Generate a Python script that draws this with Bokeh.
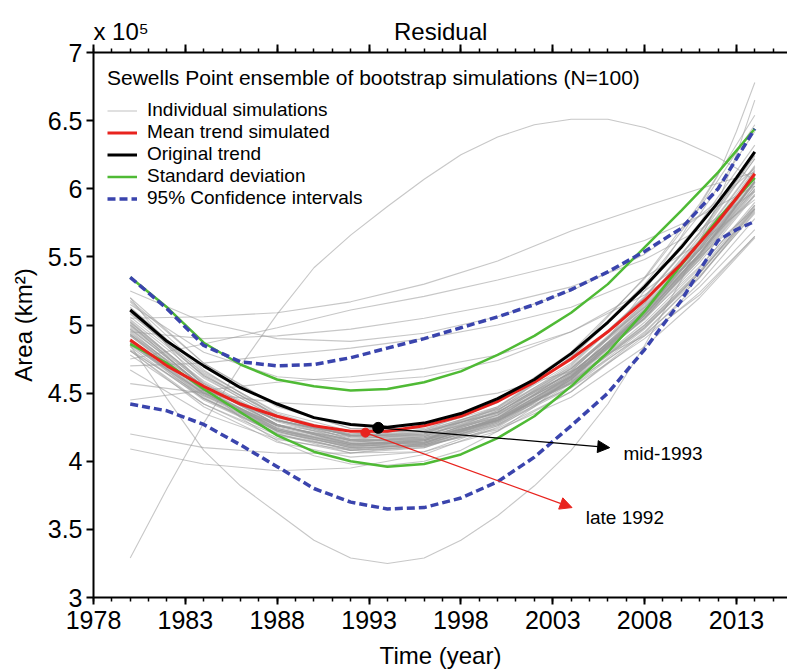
from bokeh.plotting import figure
from bokeh.models import (ColumnDataSource, Legend, LegendItem, FixedTicker,
                          LinearAxis, Label, Arrow, NormalHead, Range1d,
                          CustomJSTickFormatter)
from bokeh.embed import file_html
from bokeh.resources import INLINE

FONT = "Liberation Sans"

# ---------------- data ----------------
main_years = [1980, 1982, 1984, 1986, 1988, 1990, 1992, 1994, 1996, 1998,
              2000, 2002, 2004, 2006, 2008, 2010, 2012, 2013, 2014]
original_trend = [5.11, 4.88, 4.70, 4.54, 4.42, 4.32, 4.27, 4.25, 4.28, 4.35,
                  4.46, 4.60, 4.79, 5.02, 5.28, 5.57, 5.90, 6.08, 6.27]
mean_trend = [4.89, 4.70, 4.55, 4.42, 4.33, 4.26, 4.22, 4.22, 4.26, 4.33,
              4.44, 4.58, 4.75, 4.95, 5.18, 5.45, 5.76, 5.93, 6.11]
sd_upper = [5.35, 5.13, 4.87, 4.71, 4.60, 4.55, 4.52, 4.53, 4.58, 4.66,
            4.78, 4.92, 5.09, 5.30, 5.57, 5.84, 6.12, 6.28, 6.44]
sd_lower = [4.86, 4.72, 4.53, 4.36, 4.19, 4.07, 4.00, 3.96, 3.98, 4.05,
            4.17, 4.33, 4.55, 4.80, 5.10, 5.44, 5.78, 5.93, 6.08]
ci_upper = [5.35, 5.12, 4.85, 4.73, 4.70, 4.71, 4.76, 4.83, 4.90, 4.98,
            5.06, 5.15, 5.26, 5.39, 5.54, 5.71, 6.00, 6.22, 6.44]
ci_lower = [4.42, 4.37, 4.27, 4.12, 3.96, 3.80, 3.70, 3.65, 3.66, 3.73,
            3.85, 4.03, 4.26, 4.50, 4.82, 5.18, 5.62, 5.70, 5.76]

# strongly curved individual simulations, read on the main_years grid
sim_arch = [3.29, 3.80, 4.28, 4.70, 5.08, 5.42, 5.66, 5.87, 6.07, 6.25,
            6.38, 6.47, 6.51, 6.51, 6.45, 6.35, 6.23, 6.15, 6.06]
sim_deep = [4.85, 4.46, 4.08, 3.82, 3.62, 3.42, 3.29, 3.25, 3.29, 3.42,
            3.60, 3.82, 4.08, 4.42, 4.85, 5.33, 5.90, 6.25, 6.65]
sim_steep = [5.20, 4.85, 4.55, 4.32, 4.15, 4.04, 3.98, 3.97, 4.00, 4.08,
             4.22, 4.40, 4.62, 4.90, 5.25, 5.65, 6.10, 6.42, 6.78]

# remaining individual simulations, read on a coarser grid
sim_years = [1980, 1984, 1988, 1992, 1996, 2000, 2004, 2008, 2011, 2014]
individual_simulations = [
    [5.08, 4.65, 4.36, 4.22, 4.22, 4.36, 4.65, 5.08, 5.50, 6.00],
    [4.93, 4.55, 4.30, 4.19, 4.21, 4.36, 4.65, 5.07, 5.48, 5.96],
    [4.92, 4.52, 4.26, 4.15, 4.18, 4.36, 4.68, 5.14, 5.59, 6.11],
    [4.92, 4.50, 4.23, 4.12, 4.16, 4.35, 4.70, 5.20, 5.68, 6.24],
    [5.00, 4.54, 4.24, 4.11, 4.13, 4.32, 4.66, 5.16, 5.65, 6.22],
    [4.87, 4.50, 4.26, 4.15, 4.16, 4.31, 4.58, 4.98, 5.36, 5.82],
    [5.06, 4.63, 4.34, 4.18, 4.17, 4.30, 4.57, 4.98, 5.38, 5.86],
    [4.87, 4.46, 4.20, 4.08, 4.11, 4.29, 4.62, 5.09, 5.55, 6.08],
    [5.02, 4.58, 4.29, 4.15, 4.15, 4.31, 4.62, 5.08, 5.52, 6.05],
    [4.94, 4.55, 4.30, 4.19, 4.22, 4.39, 4.69, 5.13, 5.55, 6.05],
    [4.97, 4.55, 4.27, 4.13, 4.13, 4.27, 4.55, 4.97, 5.38, 5.87],
    [4.81, 4.42, 4.17, 4.06, 4.10, 4.27, 4.60, 5.07, 5.51, 6.04],
    [5.09, 4.63, 4.33, 4.18, 4.20, 4.37, 4.71, 5.21, 5.68, 6.25],
    [4.87, 4.48, 4.22, 4.10, 4.11, 4.26, 4.54, 4.95, 5.35, 5.83],
    [5.18, 4.72, 4.41, 4.24, 4.22, 4.35, 4.62, 5.04, 5.46, 5.95],
    [5.02, 4.56, 4.27, 4.14, 4.18, 4.39, 4.76, 5.30, 5.81, 6.42],
    [4.82, 4.46, 4.23, 4.12, 4.15, 4.30, 4.58, 4.99, 5.38, 5.84],
    [4.93, 4.52, 4.26, 4.16, 4.20, 4.40, 4.76, 5.27, 5.75, 6.32],
    [4.97, 4.55, 4.27, 4.12, 4.11, 4.24, 4.51, 4.92, 5.31, 5.78],
    [4.85, 4.50, 4.27, 4.18, 4.21, 4.38, 4.68, 5.11, 5.52, 6.00],
    [4.96, 4.51, 4.22, 4.08, 4.10, 4.28, 4.61, 5.10, 5.57, 6.13],
    [4.81, 4.48, 4.26, 4.16, 4.17, 4.30, 4.54, 4.90, 5.24, 5.65],
    [5.17, 4.67, 4.33, 4.16, 4.14, 4.29, 4.59, 5.05, 5.51, 6.05],
    [4.88, 4.53, 4.30, 4.20, 4.23, 4.38, 4.65, 5.05, 5.43, 5.88],
    [4.86, 4.46, 4.21, 4.11, 4.15, 4.34, 4.68, 5.16, 5.63, 6.17],
    [4.88, 4.47, 4.20, 4.06, 4.07, 4.22, 4.51, 4.94, 5.35, 5.85],
    [5.04, 4.61, 4.32, 4.19, 4.19, 4.34, 4.63, 5.06, 5.49, 5.99],
    [4.87, 4.49, 4.25, 4.14, 4.17, 4.34, 4.65, 5.09, 5.52, 6.02],
    [5.20, 4.72, 4.40, 4.24, 4.24, 4.40, 4.72, 5.20, 5.67, 6.22],
    [4.81, 4.40, 4.14, 4.03, 4.07, 4.26, 4.60, 5.09, 5.56, 6.11],
    [5.12, 4.64, 4.33, 4.20, 4.23, 4.43, 4.80, 5.34, 5.86, 6.47],
    [4.67, 4.35, 4.16, 4.08, 4.13, 4.30, 4.59, 5.00, 5.39, 5.85],
    [4.99, 4.57, 4.30, 4.17, 4.19, 4.36, 4.67, 5.13, 5.58, 6.10],
    [5.00, 4.59, 4.30, 4.15, 4.12, 4.23, 4.47, 4.84, 5.20, 5.64],
    [5.01, 4.53, 4.23, 4.10, 4.15, 4.37, 4.77, 5.35, 5.89, 6.54],
    [4.88, 4.53, 4.30, 4.19, 4.20, 4.32, 4.57, 4.93, 5.28, 5.70],
    [4.95, 4.52, 4.24, 4.12, 4.14, 4.30, 4.60, 5.05, 5.50, 6.02],
    [4.90, 4.49, 4.22, 4.10, 4.12, 4.29, 4.60, 5.07, 5.53, 6.06],
    [5.03, 4.57, 4.27, 4.13, 4.14, 4.30, 4.61, 5.07, 5.52, 6.05],
    [4.84, 4.45, 4.20, 4.09, 4.12, 4.30, 4.63, 5.12, 5.60, 6.14],
    [4.98, 4.55, 4.26, 4.13, 4.15, 4.32, 4.64, 5.11, 5.57, 6.09],
    [4.93, 4.51, 4.23, 4.11, 4.14, 4.32, 4.66, 5.15, 5.62, 6.16],
    [5.10, 4.62, 4.31, 4.16, 4.16, 4.31, 4.62, 5.08, 5.53, 6.05],
    [4.89, 4.50, 4.24, 4.13, 4.16, 4.33, 4.64, 5.10, 5.55, 6.06],
    [4.78, 4.42, 4.19, 4.09, 4.13, 4.31, 4.63, 5.10, 5.56, 6.09],
    [5.13, 4.66, 4.35, 4.19, 4.18, 4.32, 4.61, 5.05, 5.48, 5.98],
    [5.05, 5.06, 5.09, 5.17, 5.30, 5.47, 5.69, 5.87, 6.00, 6.12],
    [4.75, 4.86, 4.98, 5.11, 5.21, 5.33, 5.46, 5.62, 5.80, 6.02],
    [4.20, 4.10, 4.06, 4.06, 4.12, 4.28, 4.58, 5.02, 5.42, 5.90],
    [4.09, 3.98, 3.93, 3.95, 4.05, 4.25, 4.57, 5.00, 5.40, 5.88],
    [4.57, 4.50, 4.43, 4.40, 4.42, 4.50, 4.66, 4.92, 5.22, 5.65],
    [4.95, 4.90, 4.92, 4.97, 5.05, 5.15, 5.28, 5.48, 5.70, 5.98],
    [5.25, 5.02, 4.90, 4.88, 4.94, 5.06, 5.25, 5.52, 5.80, 6.15],
    [4.70, 4.72, 4.78, 4.83, 4.90, 5.00, 5.13, 5.35, 5.60, 5.92],
    [4.45, 4.52, 4.58, 4.62, 4.68, 4.78, 4.95, 5.22, 5.50, 5.85],
    [5.15, 4.80, 4.62, 4.58, 4.62, 4.74, 4.95, 5.25, 5.55, 5.95],
]

# minima of the trends (the two marked points)
orig_min_year, orig_min_val = 1993.5, 4.245
mean_min_year, mean_min_val = 1992.8, 4.21
# annotation arrow tips and label anchors (data units)
mid_arrow_tip = (2006.1, 4.10)
mid_label_pos = (2006.85, 4.06)
late_arrow_tip = (2004.05, 3.66)
late_label_pos = (2004.8, 3.585)

# texts above the frame, centred on these x positions (years)
header_positions = [1979.5, 1996.9]
header_texts = ["x 10\u2075", "Residual"]

xtick_years = [1978, 1983, 1988, 1993, 1998, 2003, 2008, 2013]
minor_years = list(range(1978, 2016))
ytick_values = [3, 3.5, 4, 4.5, 5, 5.5, 6, 6.5, 7]
ytick_labels = ["3", "3.5", "4", "4.5", "5", "5.5", "6", "6.5", "7"]

# ---------------- figure ----------------
p = figure(frame_width=694, frame_height=545,
           min_border_left=93, min_border_right=0,
           min_border_top=52, min_border_bottom=74,
           x_range=Range1d(1978, 2015.78), y_range=Range1d(3, 7),
           output_backend="svg", toolbar_location=None)
p.outline_line_color = None
p.grid.visible = False
p.background_fill_color = "white"
p.border_fill_color = "white"

xt = FixedTicker(ticks=xtick_years, minor_ticks=minor_years)
yt = FixedTicker(ticks=ytick_values, minor_ticks=[])

def style_axis(ax, major_out, minor_out):
    ax.axis_line_width = 2
    ax.axis_line_color = "black"
    ax.major_tick_line_width = 2
    ax.minor_tick_line_width = 1.5
    ax.major_tick_in = 0
    ax.minor_tick_in = 0
    ax.major_tick_out = major_out
    ax.minor_tick_out = minor_out
    ax.major_label_text_font = FONT
    ax.major_label_text_font_size = "25px"
    ax.major_label_text_color = "black"
    ax.axis_label_text_font = FONT
    ax.axis_label_text_font_size = "24px"
    ax.axis_label_text_font_style = "normal"
    ax.axis_label_text_color = "black"

xa = p.xaxis[0]
xa.ticker = xt
style_axis(xa, 7, 4)
xa.major_label_standoff = 6
xa.axis_label = "Time (year)"
xa.axis_label_standoff = 10

ya = p.yaxis[0]
ya.ticker = yt
style_axis(ya, 7, 0)
ya.major_label_overrides = {v: s for v, s in zip(ytick_values, ytick_labels)}
ya.major_label_standoff = 4
ya.axis_label = "Area (km²)"
ya.axis_label_standoff = 8

# top frame axis: ticks only
top = LinearAxis(ticker=xt, formatter=CustomJSTickFormatter(code="return ''"))
style_axis(top, 8, 4)
top.major_label_standoff = 0
p.add_layout(top, "above")

# header row above it: "x 10^5" and the title "Residual"
head = LinearAxis(ticker=FixedTicker(ticks=header_positions, minor_ticks=[]))
head.major_label_overrides = {v: s for v, s in zip(header_positions, header_texts)}
head.axis_line_color = None
head.major_tick_line_color = None
head.minor_tick_line_color = None
head.major_tick_in = 0
head.major_tick_out = 0
head.minor_tick_in = 0
head.minor_tick_out = 0
head.major_label_standoff = 0
head.major_label_text_font = FONT
head.major_label_text_font_size = "24px"
head.major_label_text_color = "black"
p.add_layout(head, "above")

# ---------------- glyphs ----------------
sim_src = ColumnDataSource(data=dict(
    xs=[sim_years for _ in individual_simulations]
       + [main_years, main_years, main_years],
    ys=individual_simulations + [sim_arch, sim_deep, sim_steep]))
r_sim = p.multi_line("xs", "ys", source=sim_src, line_color="#999999",
                     line_alpha=0.55, line_width=1.1)

r_sdu = p.line(main_years, sd_upper, line_color="#4fba35", line_width=2.5)
p.line(main_years, sd_lower, line_color="#4fba35", line_width=2.5)
r_ciu = p.line(main_years, ci_upper, line_color="#3a44ad", line_width=3.5,
               line_dash="8 4")
p.line(main_years, ci_lower, line_color="#3a44ad", line_width=3.5,
       line_dash="8 4")
r_mean = p.line(main_years, mean_trend, line_color="#e8231e", line_width=3)
r_orig = p.line(main_years, original_trend, line_color="black", line_width=3)

# arrows from the minima
p.add_layout(Arrow(end=NormalHead(size=12, fill_color="#e8231e",
                                  line_color="#e8231e"),
                   x_start=mean_min_year, y_start=mean_min_val,
                   x_end=late_arrow_tip[0], y_end=late_arrow_tip[1],
                   line_color="#e8231e", line_width=1.2))
p.add_layout(Arrow(end=NormalHead(size=12, fill_color="black",
                                  line_color="black"),
                   x_start=orig_min_year, y_start=orig_min_val,
                   x_end=mid_arrow_tip[0], y_end=mid_arrow_tip[1],
                   line_color="black", line_width=1.2))

p.scatter([mean_min_year], [mean_min_val], size=9, color="#e8231e")
p.scatter([orig_min_year], [orig_min_val], size=11, color="black")

p.add_layout(Label(x=mid_label_pos[0], y=mid_label_pos[1], text="mid-1993",
                   text_font=FONT, text_font_size="19px",
                   text_baseline="middle", text_color="black"))
p.add_layout(Label(x=late_label_pos[0], y=late_label_pos[1], text="late 1992",
                   text_font=FONT, text_font_size="19px",
                   text_baseline="middle", text_color="black"))

# ---------------- legend ----------------
legend = Legend(items=[
    LegendItem(label="Individual simulations", renderers=[r_sim]),
    LegendItem(label="Mean trend simulated", renderers=[r_mean]),
    LegendItem(label="Original trend", renderers=[r_orig]),
    LegendItem(label="Standard deviation", renderers=[r_sdu]),
    LegendItem(label="95% Confidence intervals", renderers=[r_ciu]),
], location="top_left",
    title="Sewells Point ensemble of bootstrap simulations (N=100)")
legend.title_text_font = FONT
legend.title_text_font_size = "21px"
legend.title_text_font_style = "normal"
legend.title_text_color = "black"
legend.title_standoff = 9
legend.label_text_font = FONT
legend.label_text_font_size = "19px"
legend.label_text_color = "black"
legend.label_height = 21
legend.glyph_height = 21
legend.glyph_width = 30
legend.label_standoff = 10
legend.spacing = 0
legend.padding = 10
legend.margin = 4
legend.border_line_alpha = 0
legend.background_fill_alpha = 0
p.add_layout(legend)

open("out.html", "w").write(file_html(p, INLINE))
